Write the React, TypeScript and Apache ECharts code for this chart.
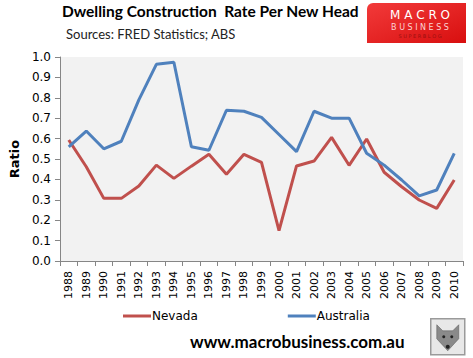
import React, { useEffect, useRef } from "react";
import * as echarts from "echarts";

const years = ["1988","1989","1990","1991","1992","1993","1994","1995","1996","1997","1998","1999","2000","2001","2002","2003","2004","2005","2006","2007","2008","2009","2010"];
const nevada = [0.593,0.462,0.307,0.307,0.368,0.47,0.405,0.465,0.523,0.425,0.523,0.484,0.149,0.466,0.49,0.606,0.469,0.598,0.435,0.364,0.299,0.258,0.397];
const australia = [0.56,0.637,0.55,0.587,0.79,0.964,0.974,0.56,0.543,0.739,0.734,0.704,0.62,0.536,0.734,0.70,0.70,0.528,0.47,0.397,0.319,0.348,0.528];
const yTicks = [0, 0.1, 0.2, 0.3, 0.4, 0.5, 0.6, 0.7, 0.8, 0.9, 1.0];

export default function App() {
  const ref = useRef<HTMLDivElement>(null);
  useEffect(() => {
    const chart = echarts.init(ref.current!, null, { renderer: "svg" });
    const font = "Verdana, 'DejaVu Sans', sans-serif";
    const cal = "Lato, 'Open Sans', sans-serif";
    const dv = "'DejaVu Sans', sans-serif";
    chart.setOption({
      animation: false,
      backgroundColor: "#ffffff",
      grid: { left: 51, right: 10, top: 57, bottom: 97, backgroundColor: "#F2F2F2", show: true, borderWidth: 0 },
      xAxis: {
        type: "category",
        data: years,
        boundaryGap: true,
        axisLine: { lineStyle: { color: "#868686", width: 1 } },
        axisTick: { show: true, length: 5, lineStyle: { color: "#868686" } },
        axisLabel: { rotate: 90, color: "#000", fontSize: 11, fontFamily: font, margin: 10, interval: 0 },
      },
      yAxis: {
        type: "value",
        min: 0,
        max: 1,
        interval: 0.1,
        name: "Ratio",
        nameLocation: "middle",
        nameGap: 36,
        nameTextStyle: { fontSize: 13, fontWeight: "bold", fontFamily: font, color: "#000" },
        splitLine: { show: false },
        axisLine: { show: true, lineStyle: { color: "#868686" } },
        axisTick: { show: true, length: 5, lineStyle: { color: "#868686" } },
        axisLabel: {
          color: "#000", fontSize: 12, fontFamily: font, margin: 9,
          formatter: (v: number) => {
            const t = yTicks.find((x) => Math.abs(x - v) < 1e-6);
            return (t !== undefined ? t : v).toFixed(1);
          },
        },
      },
      legend: {
        bottom: 31,
        left: 118,
        itemGap: 90,
        itemWidth: 28,
        itemHeight: 3,
        icon: "rect",
        textStyle: { fontSize: 12, fontFamily: font, color: "#000", padding: [0, 0, 0, -4] },
        data: ["Nevada", "Australia"],
      },
      series: [
        { name: "Nevada", type: "line", data: nevada, symbol: "none", lineStyle: { color: "#C0504D", width: 3 }, itemStyle: { color: "#C0504D" } },
        { name: "Australia", type: "line", data: australia, symbol: "none", lineStyle: { color: "#4F81BD", width: 3 }, itemStyle: { color: "#4F81BD" } },
      ],
      graphic: [
        { type: "text", left: 62, top: 3, style: { text: "Dwelling Construction  Rate Per New Head", fontSize: 15.5, fontWeight: "bold", fontFamily: cal, fill: "#000" } },
        { type: "text", left: 66, top: 27, style: { text: "Sources: FRED Statistics; ABS", fontSize: 13, fontFamily: cal, fill: "#222" } },
        {
          type: "group", left: 367, top: 3,
          children: [
            { type: "rect", shape: { x: 0, y: 0, width: 99, height: 40, r: [6, 0, 0, 0] }, style: { fill: new echarts.graphic.LinearGradient(0, 0, 1, 1, [{ offset: 0, color: "#F23A3A" }, { offset: 1, color: "#D80F0F" }]) } },
            { type: "text", x: 53, y: 6, style: { text: "M A C R O", fontSize: 12, fill: "#ffffff", fontFamily: dv, align: "center" } },
            { type: "text", x: 53, y: 20, style: { text: "B U S I N E S S", fontSize: 8, fill: "#FBD3D3", fontFamily: dv, align: "center" } },
            { type: "text", x: 53, y: 30, style: { text: "S U P E R B L O G", fontSize: 5, fill: "#9A1010", fontFamily: dv, align: "center" } },
          ],
        },
        { type: "text", left: 190, top: 333, style: { text: "www.macrobusiness.com.au", fontSize: 17, fontWeight: "bold", fontFamily: cal, fill: "#000" } },
        {
          type: "group", left: 430, top: 318,
          children: [
            { type: "rect", shape: { x: 0, y: 0, width: 34, height: 36 }, style: { fill: "#E8E8E8", stroke: "#9A9A9A", lineWidth: 1.5 } },
            { type: "polygon", shape: { points: [[6, 6], [12, 12], [22, 12], [28, 6], [28, 20], [17, 32], [6, 20]] }, style: { fill: "#8A8A8A", stroke: "#555", lineWidth: 0.5 } },
            { type: "circle", shape: { cx: 13, cy: 18, r: 1.5 }, style: { fill: "#222" } },
            { type: "circle", shape: { cx: 21, cy: 18, r: 1.5 }, style: { fill: "#222" } },
            { type: "circle", shape: { cx: 17, cy: 28, r: 2 }, style: { fill: "#222" } },
          ],
        },
      ],
    });
    return () => chart.dispose();
  }, []);
  return <div ref={ref} style={{ width: 473, height: 358, position: "absolute", left: 0, top: 0 }} />;
}
